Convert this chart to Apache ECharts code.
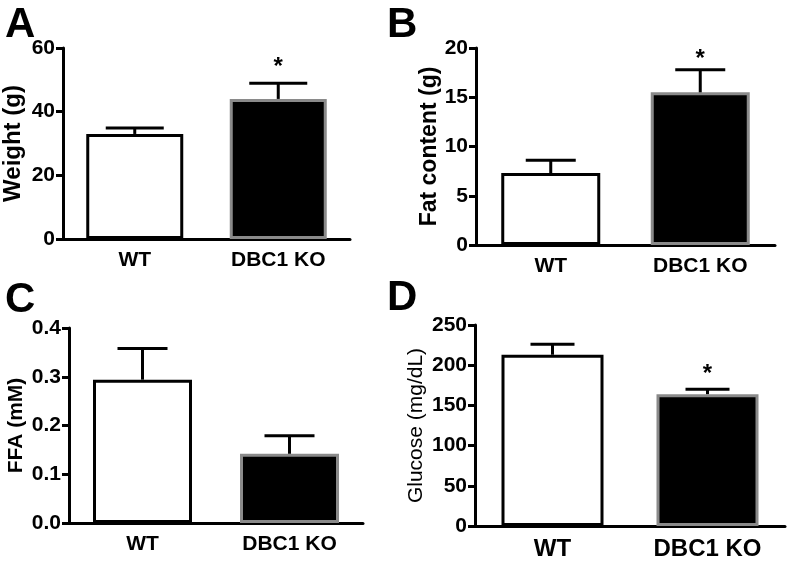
<!DOCTYPE html>
<html>
<head>
<meta charset="utf-8">
<script src="https://cdn.jsdelivr.net/npm/echarts@6/dist/echarts.min.js"></script>
<style>
  html, body { margin: 0; padding: 0; background: #fff; }
  #main { width: 790px; height: 561px; }
</style>
</head>
<body>
<div id="main"></div>
<script>
// groups on the x axis
const categories = ['WT', 'DBC1 KO'];

// panel A: body weight (g)
const weightMean = [33.0, 44.0];
const weightErr = [1.9, 4.9];
// panel B: fat content (g)
const fatMean = [7.3, 15.5];
const fatErr = [1.3, 2.3];
// panel C: FFA (mM)
const ffaMean = [0.294, 0.142];
const ffaErr = [0.064, 0.037];
// panel D: glucose (mg/dL)
const glucoseMean = [213, 164];
const glucoseErr = [13, 6];

// where the significance stars sit (null = no star)
const weightStar = [null, 54];
const fatStar = [null, 18.8];
const ffaStar = [null, null];
const glucoseStar = [null, 188];

const FONT = 'Liberation Sans, Arial, sans-serif';

const panels = [
  { letter: 'A', mean: weightMean, err: weightErr, star: weightStar, name: 'Weight (g)', nameBold: true,
    max: 60, interval: 20, digits: 0,
    grid: { left: 63, top: 48, width: 287, height: 191 }, nameGap: 38, nameSize: 24, xSize: 21,
    barWidth: 97, cap: 29, letterPos: [5, 4] },
  { letter: 'B', mean: fatMean, err: fatErr, star: fatStar, name: 'Fat content (g)', nameBold: true,
    max: 20, interval: 5, digits: 0,
    grid: { left: 476, top: 48, width: 299, height: 197 }, nameGap: 34, nameSize: 23, xSize: 21,
    barWidth: 99, cap: 25, letterPos: [387, 4] },
  { letter: 'C', mean: ffaMean, err: ffaErr, star: ffaStar, name: 'FFA (mM)', nameBold: true,
    max: 0.4, interval: 0.1, digits: 1,
    grid: { left: 69, top: 328, width: 294, height: 195 }, nameGap: 42, nameSize: 21, xSize: 21,
    barWidth: 99, cap: 25, letterPos: [5, 279] },
  { letter: 'D', mean: glucoseMean, err: glucoseErr, star: glucoseStar, name: 'Glucose (mg/dL)', nameBold: false,
    max: 250, interval: 50, digits: 0,
    grid: { left: 475, top: 325, width: 310, height: 202 }, nameGap: 48, nameSize: 21, xSize: 24,
    barWidth: 102, cap: 22, letterPos: [387, 277] }
];

const barStyles = [
  { color: '#ffffff', borderColor: '#000000', borderWidth: 3 },
  { color: '#000000', borderColor: '#8a8a8a', borderWidth: 3 }
];

const grid = [], xAxis = [], yAxis = [], series = [], graphic = [];

panels.forEach((p, i) => {
  grid.push(p.grid);
  xAxis.push({
    type: 'category', gridIndex: i, data: categories,
    axisLine: { lineStyle: { color: '#000', width: 3 } },
    axisTick: { alignWithLabel: true, length: 7, lineStyle: { color: '#000', width: 3 } },
    axisLabel: { color: '#000', fontFamily: FONT, fontWeight: 'bold', fontSize: p.xSize, margin: 11 }
  });
  yAxis.push({
    type: 'value', gridIndex: i, min: 0, max: p.max, interval: p.interval,
    name: p.name, nameLocation: 'middle', nameGap: p.nameGap,
    nameTextStyle: { color: '#000', fontFamily: FONT, fontWeight: p.nameBold ? 'bold' : 'normal', fontSize: p.nameSize },
    axisLine: { show: true, lineStyle: { color: '#000', width: 3 } },
    axisTick: { show: true, length: 7, lineStyle: { color: '#000', width: 3 } },
    splitLine: { show: false },
    axisLabel: {
      color: '#000', fontFamily: FONT, fontWeight: 'bold', fontSize: 21, margin: 8,
      formatter: v => v.toFixed(p.digits)
    }
  });

  // bars
  series.push({
    type: 'bar', xAxisIndex: i, yAxisIndex: i, barWidth: p.barWidth, z: 2,
    data: p.mean.map((v, k) => ({ value: v, itemStyle: barStyles[k] }))
  });

  // error bars (upper whisker + cap)
  const cap = p.cap;
  series.push({
    type: 'custom', xAxisIndex: i, yAxisIndex: i, z: 3,
    data: p.mean.map((v, k) => [k, v, p.err[k]]),
    renderItem: (params, api) => {
      const base = api.coord([api.value(0), api.value(1)]);
      const top = api.coord([api.value(0), api.value(1) + api.value(2)]);
      const st = { stroke: '#000', lineWidth: 3 };
      return {
        type: 'group',
        children: [
          { type: 'line', shape: { x1: base[0], y1: base[1], x2: top[0], y2: top[1] }, style: st },
          { type: 'line', shape: { x1: top[0] - cap, y1: top[1], x2: top[0] + cap, y2: top[1] }, style: st }
        ]
      };
    }
  });

  // significance stars
  const starData = [];
  p.star.forEach((s, k) => { if (s !== null) starData.push([k, s]); });
  series.push({
    type: 'custom', xAxisIndex: i, yAxisIndex: i, z: 4,
    data: starData,
    renderItem: (params, api) => {
      const pt = api.coord([api.value(0), api.value(1)]);
      return {
        type: 'text', x: pt[0], y: pt[1],
        style: { text: '*', fill: '#000', font: 'bold 24px ' + FONT, align: 'center', verticalAlign: 'middle' }
      };
    }
  });

  graphic.push({
    type: 'text', left: p.letterPos[0], top: p.letterPos[1],
    style: { text: p.letter, fill: '#000', font: 'bold 42px ' + FONT }
  });
});

const chart = echarts.init(document.getElementById('main'));
chart.setOption({
  animation: false,
  backgroundColor: '#fff',
  grid, xAxis, yAxis, series, graphic
});
</script>
</body>
</html>
